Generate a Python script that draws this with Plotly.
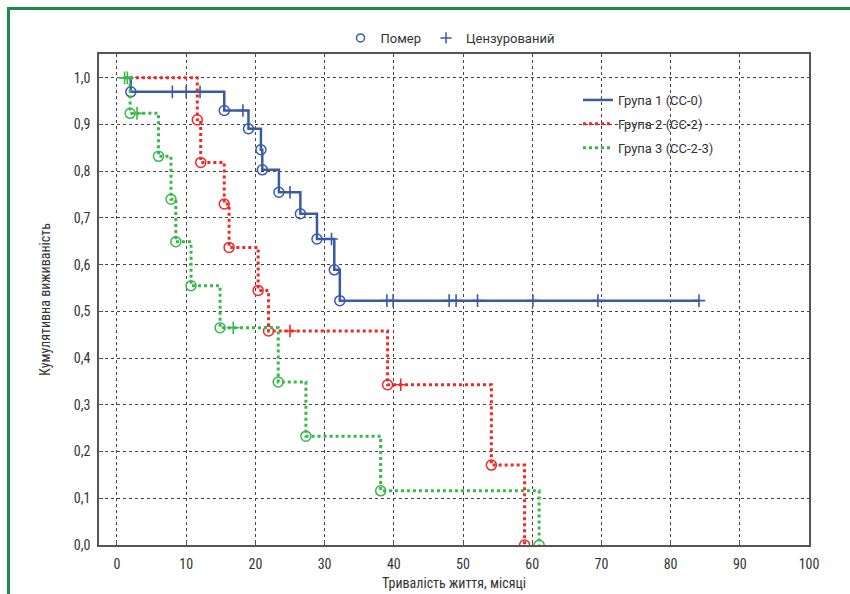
import plotly.graph_objects as go

# ---------------- data ----------------
g1_name = "Група 1 (CC-0)"
g1_start = 1.0
g1_death_t = [2.0, 15.5, 19.0, 20.8, 21.0, 23.4, 26.5, 28.9, 31.4, 32.2]
g1_death_s = [0.970, 0.930, 0.891, 0.846, 0.803, 0.755, 0.709, 0.655, 0.589, 0.523]
g1_cens_t = [8.0, 10.0, 12.0, 18.2, 25.0, 31.0, 39.0, 39.9, 48.0, 49.0, 52.1, 60.1, 69.5, 84.1]

g2_name = "Група 2 (CC-2)"
g2_start = 1.0
g2_death_t = [11.6, 12.1, 15.5, 16.2, 20.4, 21.9, 39.1, 54.1, 58.9]
g2_death_s = [0.910, 0.819, 0.730, 0.637, 0.545, 0.458, 0.343, 0.171, 0.0]
g2_cens_t = [25.0, 41.0]

g3_name = "Група 3 (CC-2-3)"
g3_start = 1.0
g3_death_t = [1.9, 6.0, 7.8, 8.5, 10.7, 14.9, 23.3, 27.3, 38.1, 61.0]
g3_death_s = [0.924, 0.832, 0.740, 0.649, 0.555, 0.465, 0.349, 0.233, 0.116, 0.0]
g3_cens_t = [1.1, 1.5, 2.9, 16.8]

x_ticks = [0, 10, 20, 30, 40, 50, 60, 70, 80, 90, 100]
y_ticks = [0.0, 0.1, 0.2, 0.3, 0.4, 0.5, 0.6, 0.7, 0.8, 0.9, 1.0]

legend_top_labels = ["Помер", "Цензурований"]
x_title = "Тривалість життя, місяці"
y_title = "Кумулятивна виживаність"

# ---------------- styling ----------------
BLUE = "#3a5aa8"
RED = "#f02828"
GREEN = "#38b84a"
FRAME = "#1b8c4c"
AXC = "#555555"
TXT = "#333333"
NARROW = "Liberation Sans Narrow, Roboto Condensed, Arial Narrow, sans-serif"
REG = "Roboto, Noto Sans, sans-serif"


def surv_at(t, dt, ds):
    s = 1.0
    for a, b in zip(dt, ds):
        if a <= t:
            s = b
    return s


fig = go.Figure()

groups = [
    (g1_name, g1_start, g1_death_t, g1_death_s, g1_cens_t, BLUE, "solid", 2.5),
    (g2_name, g2_start, g2_death_t, g2_death_s, g2_cens_t, RED, "dot", 3),
    (g3_name, g3_start, g3_death_t, g3_death_s, g3_cens_t, GREEN, "dot", 3),
]

for i, (name, start, dt, ds, ct, col, dash, lw) in enumerate(groups):
    xs = [start] + list(dt)
    ys = [1.0] + list(ds)
    last_t = max(dt + ct)
    if last_t > xs[-1]:
        xs.append(last_t)
        ys.append(ys[-1])
    fig.add_trace(go.Scatter(
        x=xs, y=ys, mode="lines", name=name,
        line=dict(color=col, width=lw, dash=dash, shape="hv"),
        legend="legend2", legendgroup=f"g{i}", showlegend=True,
        hoverinfo="skip"))
    fig.add_trace(go.Scatter(
        x=dt, y=ds, mode="markers", showlegend=False,
        marker=dict(symbol="circle-open", size=10, color=col, line=dict(width=1.5, color=col)),
        hoverinfo="skip"))
    fig.add_trace(go.Scatter(
        x=ct, y=[surv_at(t, dt, ds) for t in ct], mode="markers", showlegend=False,
        marker=dict(symbol="cross-thin-open", size=9, color=col, line=dict(width=1.6, color=col)),
        hoverinfo="skip"))

# top legend dummy traces
fig.add_trace(go.Scatter(
    x=[None], y=[None], mode="markers", name=legend_top_labels[0], legend="legend",
    marker=dict(symbol="circle-open", size=8, color=BLUE, line=dict(width=1.5, color=BLUE))))
fig.add_trace(go.Scatter(
    x=[None], y=[None], mode="markers", name=legend_top_labels[1], legend="legend",
    marker=dict(symbol="cross-thin-open", size=8, color=BLUE, line=dict(width=1.5, color=BLUE))))

# plot area: x 99..809, y 54..545 in an 850x594 page
L, R, T, B = 99, 41, 54, 49
W, H = 850 - L - R, 594 - T - B


def px(xp):
    return (xp - L) / W


def py(yp):
    return (594 - B - yp) / H


fig.update_layout(
    width=850, height=594,
    margin=dict(l=L, r=R, t=T, b=B, autoexpand=False),
    paper_bgcolor="white", plot_bgcolor="white",
    separators=", ",
    font=dict(family=NARROW, size=14, color=TXT),
    legend=dict(
        orientation="h", x=px(450), xanchor="center", y=py(38), yanchor="middle",
        font=dict(family=REG, size=13, color=TXT), bgcolor="rgba(0,0,0,0)",
        itemwidth=30),
    legend2=dict(
        x=px(578), xanchor="left", y=py(85), yanchor="top",
        font=dict(family=REG, size=13, color=TXT), bgcolor="rgba(0,0,0,0)",
        tracegroupgap=4, itemwidth=30),
    xaxis=dict(
        range=[-2.6, 100], tickvals=x_ticks, ticktext=[str(v) for v in x_ticks],
        showgrid=True, gridcolor="#444444", griddash="dot", gridwidth=1,
        showline=True, linecolor=AXC, linewidth=1.5, mirror=True,
        ticks="inside", ticklen=4, tickcolor=AXC, zeroline=False,
        ticklabelstandoff=5, automargin=False,
        tickfont=dict(family=NARROW, size=14, color=TXT),
        title=dict(text=x_title, font=dict(family=NARROW, size=14, color=TXT), standoff=8),
    ),
    yaxis=dict(
        range=[0, 1.051], tickvals=y_ticks, tickformat=".1f",
        showgrid=True, gridcolor="#444444", griddash="dot", gridwidth=1,
        showline=True, linecolor=AXC, linewidth=1.5, mirror=True,
        ticks="inside", ticklen=4, tickcolor=AXC, zeroline=False,
        ticklabelstandoff=4, automargin=False,
        tickfont=dict(family=NARROW, size=14, color=TXT),
        title=dict(text=y_title, font=dict(family=NARROW, size=14, color=TXT), standoff=20),
    ),
    shapes=[
        dict(type="line", xref="paper", yref="paper", x0=px(8), x1=px(852), y0=py(8.5), y1=py(8.5),
             line=dict(color=FRAME, width=3)),
        dict(type="line", xref="paper", yref="paper", x0=px(8.5), x1=px(8.5), y0=py(7), y1=py(596),
             line=dict(color=FRAME, width=3)),
    ],
)

fig.write_html("out.html")
